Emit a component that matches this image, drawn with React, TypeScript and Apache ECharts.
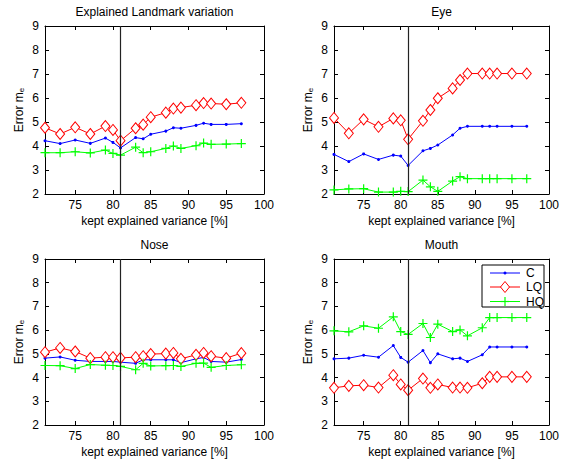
import React, { useEffect, useRef } from "react";
import * as echarts from "echarts";

const X = [71, 73, 75, 77, 79, 80, 81, 83, 84, 85, 87, 88, 89, 91, 92, 93, 95, 97];
const X_TICKS = [75, 80, 85, 90, 95, 100];
const TITLES = ["Explained Landmark variation", "Eye", "Nose", "Mouth"];
const SERIES_NAMES = ["C", "LQ", "HQ"];
const SPLIT_X = 81;

// Landmark
const LM_C = [4.22, 4.1, 4.25, 4.11, 4.33, 4.15, 3.92, 4.35, 4.3, 4.49, 4.62, 4.76, 4.74, 4.86, 4.95, 4.9, 4.9, 4.93];
const LM_LQ = [4.76, 4.5, 4.78, 4.5, 4.83, 4.67, 4.22, 4.74, 4.89, 5.2, 5.39, 5.56, 5.6, 5.7, 5.79, 5.77, 5.74, 5.8];
const LM_HQ = [3.72, 3.72, 3.76, 3.71, 3.83, 3.69, 3.62, 3.95, 3.72, 3.76, 3.9, 4.0, 3.9, 4.01, 4.12, 4.07, 4.08, 4.1];
// Eye
const EYE_C = [3.65, 3.35, 3.67, 3.44, 3.62, 3.58, 3.19, 3.8, 3.9, 4.04, 4.46, 4.74, 4.82, 4.82, 4.82, 4.82, 4.82, 4.82];
const EYE_LQ = [5.17, 4.53, 5.11, 4.8, 5.15, 5.07, 4.28, 5.05, 5.5, 5.99, 6.4, 6.75, 7.02, 7.02, 7.02, 7.02, 7.02, 7.02];
const EYE_HQ = [2.17, 2.21, 2.22, 2.08, 2.08, 2.11, 2.1, 2.58, 2.3, 2.11, 2.54, 2.72, 2.64, 2.64, 2.64, 2.64, 2.64, 2.64];
// Nose
const NOSE_C = [4.82, 4.87, 4.73, 4.68, 4.68, 4.68, 4.65, 4.6, 4.75, 4.75, 4.75, 4.75, 4.63, 4.79, 4.85, 4.68, 4.65, 4.76];
const NOSE_LQ = [5.07, 5.25, 5.1, 4.82, 4.86, 4.86, 4.83, 4.86, 4.9, 4.99, 5.01, 5.04, 4.79, 4.96, 5.04, 4.9, 4.82, 5.03];
const NOSE_HQ = [4.51, 4.5, 4.38, 4.55, 4.52, 4.51, 4.47, 4.33, 4.6, 4.49, 4.5, 4.51, 4.47, 4.6, 4.61, 4.43, 4.51, 4.54];
// Mouth
const MOUTH_C = [4.79, 4.82, 4.94, 4.86, 5.35, 4.85, 4.65, 5.14, 4.63, 5.0, 4.79, 4.82, 4.68, 4.96, 5.29, 5.29, 5.29, 5.29];
const MOUTH_LQ = [3.57, 3.65, 3.68, 3.58, 4.1, 3.71, 3.47, 3.96, 3.57, 3.71, 3.58, 3.58, 3.57, 3.76, 4.03, 4.03, 4.03, 4.03];
const MOUTH_HQ = [5.97, 5.93, 6.18, 6.08, 6.56, 5.94, 5.82, 6.28, 5.69, 6.25, 5.94, 6.01, 5.76, 6.1, 6.53, 6.53, 6.53, 6.53];

const PANELS = [
  [LM_C, LM_LQ, LM_HQ],
  [EYE_C, EYE_LQ, EYE_HQ],
  [NOSE_C, NOSE_LQ, NOSE_HQ],
  [MOUTH_C, MOUTH_LQ, MOUTH_HQ],
];

const FONT = "Liberation Sans, Arial, Helvetica, sans-serif";
const GRIDS = [
  { left: 45, top: 26, width: 219, height: 168 },
  { left: 334, top: 26, width: 215, height: 168 },
  { left: 45, top: 259, width: 219, height: 168 },
  { left: 334, top: 259, width: 215, height: 168 },
];
const COLORS = ["#0000ff", "#ff0000", "#00ff00"];
const PLUS = "path://M5,0 L5,10 M0,5 L10,5";
const DIAMOND = "path://M5,0 L10,6 L5,12 L0,6 Z";

function legendGraphic() {
  const box = { x: 482, y: 265, w: 62, h: 42 };
  const rows = [273, 287, 301.5];
  const x1 = 490, x2 = 520, cx = 505, tx = 526;
  const children: any[] = [
    { type: "rect", shape: { x: box.x, y: box.y, width: box.w, height: box.h }, style: { fill: "#fff", stroke: "#000", lineWidth: 1 } },
  ];
  rows.forEach((y, i) => {
    children.push({ type: "line", shape: { x1, y1: y, x2, y2: y }, style: { stroke: COLORS[i], lineWidth: 1 } });
    if (i === 0) {
      children.push({ type: "circle", shape: { cx, cy: y, r: 1.5 }, style: { fill: COLORS[i] } });
    } else if (i === 1) {
      children.push({ type: "polygon", shape: { points: [[cx, y - 5.5], [cx + 4.5, y], [cx, y + 5.5], [cx - 4.5, y]] }, style: { fill: "#fff", stroke: COLORS[i], lineWidth: 1 } });
    } else {
      children.push({ type: "line", shape: { x1: cx - 4.5, y1: y, x2: cx + 4.5, y2: y }, style: { stroke: COLORS[i], lineWidth: 1.2 } });
      children.push({ type: "line", shape: { x1: cx, y1: y - 4.5, x2: cx, y2: y + 4.5 }, style: { stroke: COLORS[i], lineWidth: 1.2 } });
    }
    children.push({ type: "text", style: { text: SERIES_NAMES[i], x: tx, y, verticalAlign: "middle", font: `12px ${FONT}`, fill: "#000" } });
  });
  return { type: "group", z: 100, children };
}

export default function App() {
  const ref = useRef<HTMLDivElement>(null);
  useEffect(() => {
    document.body.style.margin = "0";
    const chart = echarts.init(ref.current!, null, { renderer: "svg" });
    const axisLine = { show: true, lineStyle: { color: "#000", width: 1 } };
    const xAxes: any[] = [];
    const yAxes: any[] = [];
    GRIDS.forEach((_, g) => {
      xAxes.push({
        type: "value", gridIndex: g, min: 71, max: 100, position: "bottom",
        axisLine, splitLine: { show: false },
        axisTick: { show: true, inside: true, length: 4, customValues: X_TICKS, lineStyle: { color: "#000" } },
        axisLabel: { customValues: X_TICKS, color: "#000", fontSize: 12, fontFamily: FONT, margin: 5 },
        name: "kept explained variance [%]", nameLocation: "middle", nameGap: 21,
        nameTextStyle: { color: "#000", fontSize: 12, fontFamily: FONT },
      });
      yAxes.push({
        type: "value", gridIndex: g, min: 2, max: 9, interval: 1, position: "left",
        axisLine, splitLine: { show: false },
        axisTick: { show: true, inside: true, length: 4, lineStyle: { color: "#000" } },
        axisLabel: { color: "#000", fontSize: 12, fontFamily: FONT, margin: 6 },
        name: "Error m{s|e}", nameLocation: "middle", nameGap: 20,
        nameTextStyle: {
          color: "#000", fontSize: 12, fontFamily: FONT,
          rich: { s: { fontSize: 8, fontFamily: FONT, color: "#000", padding: [5, 0, 0, 0] } },
        },
      });
    });
    GRIDS.forEach((_, g) => {
      xAxes.push({
        type: "value", gridIndex: g, min: 71, max: 100, position: "top",
        axisLine, splitLine: { show: false },
        axisTick: { show: true, inside: true, length: 4, customValues: X_TICKS, lineStyle: { color: "#000" } },
        axisLabel: { show: false },
      });
      yAxes.push({
        type: "value", gridIndex: g, min: 2, max: 9, interval: 1, position: "right",
        axisLine, splitLine: { show: false },
        axisTick: { show: true, inside: true, length: 4, lineStyle: { color: "#000" } },
        axisLabel: { show: false },
      });
    });

    const series: any[] = [];
    PANELS.forEach((panel, g) => {
      panel.forEach((vals, s) => {
        const base: any = {
          type: "line", name: SERIES_NAMES[s], xAxisIndex: g, yAxisIndex: g,
          data: X.map((x, i) => [x, vals[i]]),
          lineStyle: { color: COLORS[s], width: 1 },
          itemStyle: { color: COLORS[s] },
          showSymbol: true,
        };
        if (s === 0) {
          base.symbol = "circle";
          base.symbolSize = 3;
          base.markLine = {
            silent: true, symbol: ["none", "none"], label: { show: false },
            lineStyle: { color: "#222", type: "solid", width: 1.2 },
            data: [{ xAxis: SPLIT_X }],
          };
        } else if (s === 1) {
          base.symbol = DIAMOND;
          base.symbolSize = [9, 11];
          base.symbolKeepAspect = false;
          base.itemStyle = { color: "#fff", borderColor: COLORS[s], borderWidth: 1 };
          base.z = 3;
        } else {
          base.symbol = PLUS;
          base.symbolSize = 9;
          base.itemStyle = { color: COLORS[s], borderColor: COLORS[s], borderWidth: 1.2 };
        }
        series.push(base);
      });
    });

    chart.setOption({
      animation: false,
      backgroundColor: "#fff",
      title: TITLES.map((t, g) => ({
        text: t,
        left: GRIDS[g].left + GRIDS[g].width / 2,
        top: GRIDS[g].top - 20,
        textAlign: "center",
        padding: 0,
        textStyle: { color: "#000", fontSize: 12, fontWeight: "normal", fontFamily: FONT },
      })),
      grid: GRIDS.map((gr) => ({ ...gr, show: false })),
      xAxis: xAxes,
      yAxis: yAxes,
      graphic: [legendGraphic()],
      series,
    });
    return () => chart.dispose();
  }, []);
  return <div ref={ref} style={{ width: 568, height: 459 }} />;
}
